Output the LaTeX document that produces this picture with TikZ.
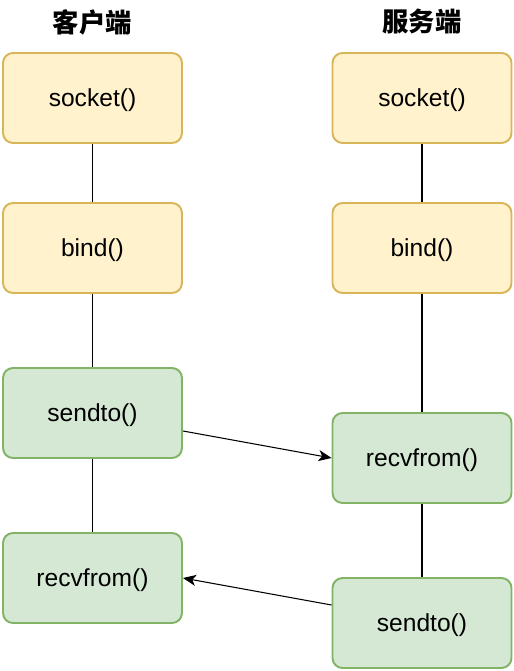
\documentclass[tikz,border=0pt]{standalone}
\usepackage{fontspec}
\usetikzlibrary{arrows.meta}
\setmainfont{Liberation Sans}
\newfontfamily\cjk{Noto Sans CJK SC}
\definecolor{ylwfill}{HTML}{FFF2CC}
\definecolor{ylwline}{HTML}{D6B656}
\definecolor{grnfill}{HTML}{D5E8D4}
\definecolor{grnline}{HTML}{82B366}
\tikzset{
	fnbox/.style={rounded corners=0.2cm, line width=1.1pt, minimum width=3.58cm, minimum height=1.8cm, text depth=0pt, font=\fontsize{14}{17}\selectfont},
	ylwbox/.style={fnbox, draw=ylwline, fill=ylwfill},
	grnbox/.style={fnbox, draw=grnline, fill=grnfill},
	title/.style={font=\cjk\bfseries\fontsize{15}{18}\selectfont}
}
\begin{document}
\begin{tikzpicture}[>={Stealth[length=2.6mm, width=2.2mm, inset=0.7mm]}, x=0.02cm, y=-0.02cm, line width=0.6pt]
			\useasboundingbox (0,0) rectangle (513,671);
			\node[title] (client) at (92.5,22) {客户端};
			\node[title] (server) at (422,22) {服务端};
			% client side
			\node[ylwbox] (socketC) at (92.5,98) {socket()};
			\node[ylwbox] (bindC) at (92.5,248) {bind()};
			\node[grnbox] (sendtoC) at (92.5,413) {sendto()};
			\node[grnbox] (recvfromC) at (92.5,578) {recvfrom()};
			% server side
			\node[ylwbox] (socketS) at (422,98) {socket()};
			\node[ylwbox] (bindS) at (422,248) {bind()};
			\node[grnbox] (recvfromS) at (422,458) {recvfrom()};
			\node[grnbox] (sendtoS) at (422,623) {sendto()};
			\draw (socketC) -- (bindC);
			\draw (bindC) -- (sendtoC);
			\draw (sendtoC) -- (recvfromC);
			\draw (socketS) -- (bindS);
			\draw (bindS) -- (recvfromS);
			\draw (recvfromS) -- (sendtoS);
			\draw[->] ([yshift=-0.36cm]sendtoC.east) -- (recvfromS.west);
			\draw[->] ([yshift=0.36cm]sendtoS.west) -- (recvfromC.east);
		\end{tikzpicture}
\end{document}
